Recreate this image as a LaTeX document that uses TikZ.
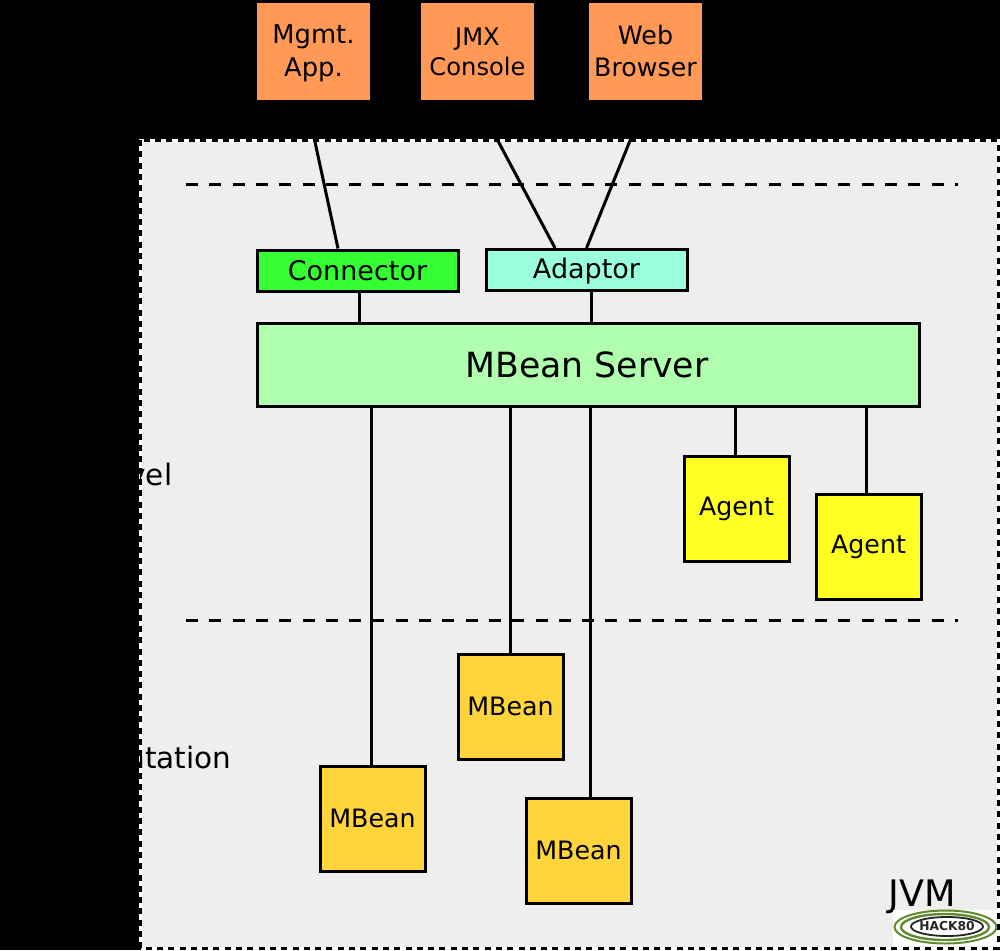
\documentclass[tikz,border=0pt]{standalone}
\usepackage{fontspec}
\setmainfont{DejaVu Sans}
\definecolor{orangebox}{HTML}{FF9955}
\definecolor{connbox}{HTML}{33FF33}
\definecolor{adaptbox}{HTML}{99FFDD}
\definecolor{serverbox}{HTML}{AFFFAF}
\definecolor{agentbox}{HTML}{FFFF22}
\definecolor{beanbox}{HTML}{FFD53B}
\definecolor{panelgrey}{HTML}{EEEEEE}
\definecolor{logogreen}{HTML}{5F8A2E}
\tikzset{
  x=1pt,y=-1pt,
  boxbase/.style={draw=black,line width=3pt,inner sep=0pt,align=center,anchor=center},
  clientbox/.style={boxbase,fill=orangebox,minimum width=116pt,minimum height=99pt},
  smallbar/.style={boxbase,minimum width=201pt,minimum height=41pt,font=\fontsize{27}{32}\selectfont},
  serverstyle/.style={boxbase,fill=serverbox,minimum width=662pt,minimum height=83pt,font=\fontsize{34.7}{40}\selectfont},
  agentstyle/.style={boxbase,fill=agentbox,minimum width=105pt,minimum height=105pt,font=\fontsize{25.3}{30}\selectfont},
  beanstyle/.style={boxbase,fill=beanbox,minimum width=105pt,minimum height=105pt,font=\fontsize{25.3}{30}\selectfont},
  wire/.style={line width=3pt,black},
  levelline/.style={line width=3pt,black,dash pattern=on 12pt off 11.3pt},
  leveltext/.style={inner sep=0pt,font=\fontsize{29.5}{34}\selectfont,anchor=base east},
  edgehalo/.style={white,line width=3pt},
  edgedash/.style={black,line width=3pt,dash pattern=on 6pt off 5.3pt}
}
\begin{document}
\begin{tikzpicture}
\useasboundingbox (0,0) rectangle (1000,950);
\fill[black] (0,0) rectangle (1000,950);
% JVM panel
\fill[panelgrey] (140,140) rectangle (998,948);
\draw[edgehalo] (140,140) rectangle (998,948);
\draw[edgedash] (140,140) rectangle (998,948);
\begin{scope}
  \clip (140,140) rectangle (1000,950);
  \node[leveltext] (agentlevel) at (172.5,485) {vel};
  \node[leveltext] (instrlevel) at (231.5,768) {ntation};
\end{scope}
% level separators
\coordinate (la) at (186,184); \coordinate (lb) at (958,184);
\coordinate (lc) at (186,620); \coordinate (ld) at (958,620);
\draw[levelline] (la) -- (lb);
\draw[levelline] (lc) -- (ld);
% boxes
\node[clientbox,font=\fontsize{25.8}{33}\selectfont] (mgmt) at (313.5,51.5) {\rule{0pt}{22pt}Mgmt.\\App.};
\node[clientbox,font=\fontsize{24.2}{30}\selectfont] (jmx) at (477.5,51.5) {JMX\\Console};
\node[clientbox,font=\fontsize{25.3}{32}\selectfont] (web) at (645.5,51.5) {Web\\Browser};
\node[smallbar,fill=connbox] (conn) at (357.5,270.5) {Connector};
\node[smallbar,fill=adaptbox] (adapt) at (586.5,270) {\rule{0pt}{23pt}Adaptor};
\node[serverstyle] (server) at (588,365) {\hspace{-2pt}MBean Server};
\node[agentstyle] (ag1) at (736.5,508.5) {Agent};
\node[agentstyle] (ag2) at (868.5,546.5) {Agent};
\node[beanstyle] (b1) at (372.5,818.5) {MBean};
\node[beanstyle] (b2) at (510.5,706.5) {MBean};
\node[beanstyle] (b3) at (578.5,850.5) {MBean};
% connectors
\draw[wire] ([xshift=-7pt]mgmt.south) -- ([xshift=-19.5pt]conn.north);
\draw[wire] (jmx.south) -- ([xshift=-31.5pt]adapt.north);
\draw[wire] (web.south) -- (adapt.north);
\draw[wire] ([xshift=1.5pt]conn.south) -- ([xshift=1.5pt]conn.south |- server.north);
\draw[wire] ([xshift=4.5pt]adapt.south) -- ([xshift=4.5pt]adapt.south |- server.north);
\draw[wire] ([xshift=-1.5pt]b1.north |- server.south) -- ([xshift=-1.5pt]b1.north);
\draw[wire] (b2.north |- server.south) -- (b2.north);
\draw[wire] ([xshift=11.5pt]b3.north |- server.south) -- ([xshift=11.5pt]b3.north);
\draw[wire] ([xshift=-1.5pt]ag1.north |- server.south) -- ([xshift=-1.5pt]ag1.north);
\draw[wire] ([xshift=-2.5pt]ag2.north |- server.south) -- ([xshift=-2.5pt]ag2.north);
% JVM label and logo
\node[inner sep=0pt,font=\fontsize{36.5}{40}\selectfont,anchor=base] (jvm) at (922,906) {JVM};
\fill[white] (893,910) rectangle (997,946);
\draw[logogreen,line width=2pt] (945.5,927) ellipse [x radius=51,y radius=16.5];
\draw[logogreen,line width=2.4pt] (945,927) ellipse [x radius=44,y radius=13];
\draw[black!85,line width=1.8pt] (947,926.5) ellipse [x radius=36,y radius=9.5];
\node[inner sep=0pt,font=\fontsize{12.3}{15}\selectfont\bfseries,text=black!85] (logo) at (947,926.5) {HACK80};
\end{tikzpicture}
\end{document}
